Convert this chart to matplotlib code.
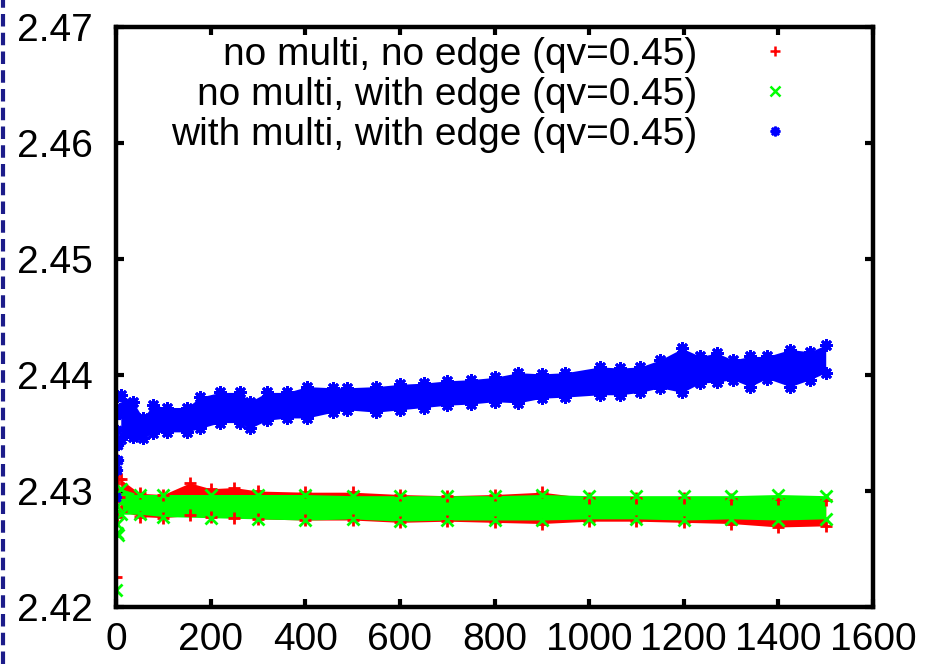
import matplotlib
matplotlib.use("Agg")
import matplotlib.pyplot as plt
from matplotlib.lines import Line2D
import numpy as np

plt.rcParams['font.family'] = ['Liberation Sans', 'DejaVu Sans']

labels = ['no multi, no edge (qv=0.45)',
          'no multi, with edge (qv=0.45)',
          'with multi, with edge (qv=0.45)']
colors = ['#ff0000', '#00ff00', '#0000ff']
markers = ['+', 'x', (8, 2, 0)]

# band edges (x = step, lo/hi = outer edge of the cloud)
red_x = [10, 50, 100, 156, 200, 250, 300, 400, 500, 600, 700, 800, 900,
         1000, 1100, 1200, 1300, 1400, 1500]
red_lo = [2.4283, 2.4278, 2.4277, 2.4279, 2.4278, 2.4277, 2.4276, 2.4275, 2.4275,
          2.4273, 2.4274, 2.4273, 2.4272, 2.4274, 2.4274, 2.4273, 2.4272, 2.4269, 2.4270]
red_hi = [2.4310, 2.4298, 2.4297, 2.4307, 2.4302, 2.4303, 2.4300, 2.4299, 2.4299,
          2.4297, 2.4296, 2.4297, 2.4299, 2.4294, 2.4294, 2.4294, 2.4293, 2.4293, 2.4292]

green_x = [10, 50, 100, 200, 300, 400, 500, 600, 700, 800, 900, 1000, 1100,
           1200, 1300, 1400, 1500]
green_lo = [2.4280, 2.4280, 2.4278, 2.4277, 2.4276, 2.4275, 2.4276, 2.4274, 2.4275,
            2.4275, 2.4275, 2.4276, 2.4276, 2.4275, 2.4276, 2.4275, 2.4276]
green_hi = [2.4302, 2.4297, 2.4297, 2.4297, 2.4297, 2.4297, 2.4296, 2.4296, 2.4296,
            2.4296, 2.4297, 2.4296, 2.4296, 2.4296, 2.4296, 2.4297, 2.4296]

blue_x = [10, 36, 57, 78, 107, 150, 178, 220, 262, 283, 319, 361, 404, 459, 488,
          550, 600, 650, 700, 750, 800, 850, 900, 950, 1023, 1066, 1108, 1150,
          1197, 1235, 1270, 1304, 1340, 1376, 1425, 1467, 1500]
blue_lo = [2.4345, 2.4347, 2.4346, 2.4350, 2.4351, 2.4351, 2.4354, 2.4359, 2.4359,
           2.4354, 2.4361, 2.4363, 2.4363, 2.4368, 2.4370, 2.4368, 2.4370, 2.4372,
           2.4374, 2.4375, 2.4377, 2.4376, 2.4380, 2.4381, 2.4383, 2.4383, 2.4385,
           2.4389, 2.4385, 2.4393, 2.4394, 2.4396, 2.4390, 2.4397, 2.4390, 2.4396, 2.4402]
blue_hi = [2.4383, 2.4377, 2.4363, 2.4374, 2.4372, 2.4372, 2.4381, 2.4385, 2.4385,
           2.4377, 2.4385, 2.4385, 2.4390, 2.4389, 2.4389, 2.4390, 2.4392, 2.4393,
           2.4395, 2.4396, 2.4398, 2.4402, 2.4401, 2.4402, 2.4407, 2.4406, 2.4407,
           2.4413, 2.4423, 2.4416, 2.4419, 2.4413, 2.4416, 2.4416, 2.4422, 2.4420, 2.4426]

# scattered first steps
red_x0 = [0, 1, 2, 3, 4, 6]
red_y0 = [2.4226, 2.4327, 2.4303, 2.4278, 2.4310, 2.4295]
green_x0 = [0, 1, 2, 3, 5]
green_y0 = [2.4215, 2.4264, 2.4272, 2.4287, 2.4262]
blue_x0 = [0, 1, 2, 3, 4, 5, 6, 8]
blue_y0 = [2.4295, 2.4318, 2.4353, 2.4381, 2.4340, 2.4327, 2.4366, 2.4372]

series = [(red_x, red_lo, red_hi, red_x0, red_y0),
          (green_x, green_lo, green_hi, green_x0, green_y0),
          (blue_x, blue_lo, blue_hi, blue_x0, blue_y0)]

fig = plt.figure(figsize=(9.26, 6.64), dpi=100)
ax = fig.add_axes([0.1253, 0.0858, 0.8175, 0.8735])

for (x, lo, hi, x0, y0), c, m in zip(series, colors, markers):
    ax.fill_between(x, lo, hi, color=c, linewidth=0)
    for edge in (lo, hi):
        ax.plot(x, edge, ls='none', marker=m, color=c, ms=9, mew=2)
    ax.plot(x0, y0, ls='none', marker=m, color=c, ms=8, mew=2)

ax.set_xlim(0, 1600)
ax.set_ylim(2.42, 2.47)
ax.set_xticks(range(0, 1601, 200))
ax.set_yticks([2.42, 2.43, 2.44, 2.45, 2.46, 2.47])
ax.set_yticklabels(['2.42', '2.43', '2.44', '2.45', '2.46', '2.47'])
ax.tick_params(direction='in', length=6, width=3, labelsize=28,
               top=True, right=True)
ax.tick_params(axis='x', pad=11)
ax.tick_params(axis='y', pad=17)
for s in ax.spines.values():
    s.set_linewidth(3.2)

handles = [Line2D([], [], ls='none', marker=m, color=c, ms=7, mew=1.8)
           for c, m in zip(colors, markers)]
ax.legend(handles, labels, loc='upper right', bbox_to_anchor=(0.935, 0.983),
          frameon=False, markerfirst=False, fontsize=28, handlelength=2.5,
          handletextpad=0.75, labelspacing=0.1, borderaxespad=0, borderpad=0)

# slide frame on the left edge
fig.add_artist(Line2D([0.003, 0.003], [0, 1], transform=fig.transFigure,
                      color='#1c1c8a', lw=3, dashes=(3, 1.5)))

fig.savefig('out.png', dpi=100)
